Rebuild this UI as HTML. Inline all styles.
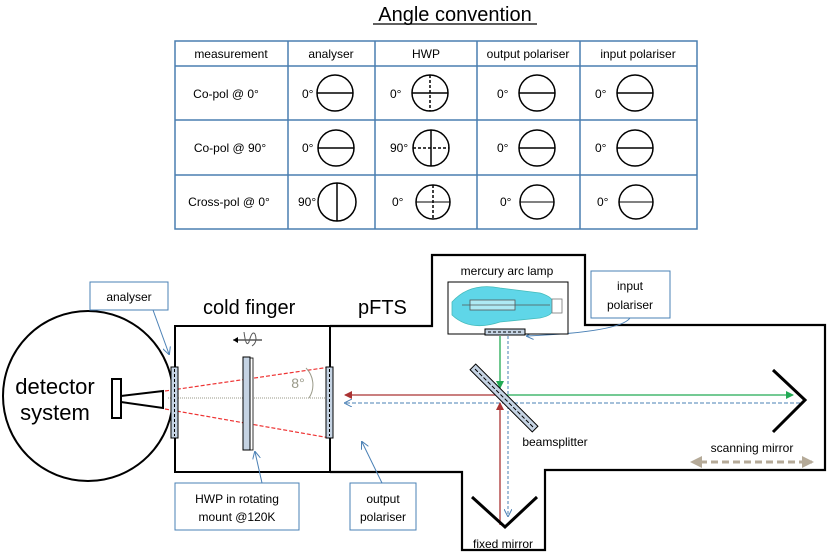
<!DOCTYPE html>
<html><head><style>html,body{margin:0;padding:0;background:#fff}svg{display:block}</style></head>
<body>
<svg width="830" height="557" viewBox="0 0 830 557" xmlns="http://www.w3.org/2000/svg" font-family="Liberation Sans, sans-serif">
<defs>
<marker id="ar" markerWidth="8" markerHeight="8" refX="7" refY="4" orient="auto" markerUnits="userSpaceOnUse"><path d="M0,0 L8,4 L0,8 z" fill="#a33"/></marker>
<marker id="ag" markerWidth="8" markerHeight="8" refX="7" refY="4" orient="auto" markerUnits="userSpaceOnUse"><path d="M0,0 L8,4 L0,8 z" fill="#2a5"/></marker>
<marker id="ab" markerWidth="8" markerHeight="8" refX="7" refY="4" orient="auto" markerUnits="userSpaceOnUse"><path d="M0,0 L8,4 L0,8" fill="none" stroke="#4a80b5"/></marker>
<marker id="at" markerWidth="12" markerHeight="12" refX="10" refY="6" orient="auto" markerUnits="userSpaceOnUse"><path d="M0,0 L12,6 L0,12 z" fill="#b5aa98"/></marker>
</defs>
<!-- title -->
<text x="455" y="21" font-size="20" text-anchor="middle">Angle convention</text>
<line x1="373" y1="24" x2="537" y2="24" stroke="#000" stroke-width="1.2"/>
<!-- table -->
<g stroke="#4a7fb0" stroke-width="1.5" fill="none">
<rect x="175" y="41" width="522" height="188"/>
<line x1="175" y1="66" x2="697" y2="66"/><line x1="175" y1="120" x2="697" y2="120"/><line x1="175" y1="175" x2="697" y2="175"/>
<line x1="288" y1="41" x2="288" y2="229"/><line x1="375" y1="41" x2="375" y2="229"/><line x1="477" y1="41" x2="477" y2="229"/><line x1="580" y1="41" x2="580" y2="229"/>
</g>
<g font-size="12" text-anchor="middle">
<text x="231" y="58">measurement</text><text x="331" y="58">analyser</text><text x="426" y="58">HWP</text><text x="528" y="58">output polariser</text><text x="638" y="58">input polariser</text>
<text x="226" y="98">Co-pol @ 0°</text><text x="230" y="152">Co-pol @ 90°</text><text x="229" y="206">Cross-pol @ 0°</text>
</g>
<g font-size="12">
<text x="302" y="98">0°</text><text x="302" y="152">0°</text><text x="298" y="206">90°</text>
<text x="390" y="98">0°</text><text x="390" y="152">90°</text><text x="392" y="206">0°</text>
<text x="497" y="98">0°</text><text x="497" y="152">0°</text><text x="500" y="206">0°</text>
<text x="595" y="98">0°</text><text x="595" y="152">0°</text><text x="597" y="206">0°</text>
</g>
<g stroke="#000" stroke-width="1.5" fill="none">
<circle cx="335" cy="93" r="18"/><line x1="317" y1="93" x2="353" y2="93"/>
<circle cx="336" cy="148" r="18"/><line x1="318" y1="148" x2="354" y2="148"/>
<circle cx="337" cy="202" r="19"/><line x1="337" y1="183" x2="337" y2="221"/>
<circle cx="430" cy="93" r="18"/><line x1="412" y1="93" x2="448" y2="93"/><line x1="430" y1="75" x2="430" y2="111" stroke-dasharray="3,2"/>
<circle cx="431" cy="148" r="18"/><line x1="431" y1="130" x2="431" y2="166"/><line x1="413" y1="148" x2="449" y2="148" stroke-dasharray="3,2"/>
<circle cx="433" cy="202" r="17"/><line x1="416" y1="202" x2="450" y2="202" stroke-width="1"/><line x1="433" y1="185" x2="433" y2="219" stroke-dasharray="3,2"/>
<circle cx="537" cy="93" r="18"/><line x1="519" y1="93" x2="555" y2="93"/>
<circle cx="537" cy="148" r="18"/><line x1="519" y1="148" x2="555" y2="148"/>
<circle cx="537" cy="202" r="17"/><line x1="520" y1="202" x2="554" y2="202" stroke-width="1"/>
<circle cx="635" cy="93" r="18"/><line x1="617" y1="93" x2="653" y2="93"/>
<circle cx="635" cy="148" r="18"/><line x1="617" y1="148" x2="653" y2="148"/>
<circle cx="636" cy="202" r="17"/><line x1="619" y1="202" x2="653" y2="202" stroke-width="1"/>
</g>
<!-- outlines -->
<circle cx="88" cy="396" r="85" fill="none" stroke="#000" stroke-width="2"/>
<rect x="175" y="326" width="155" height="146" fill="none" stroke="#000" stroke-width="2"/>
<path d="M330,326 L432,326 L432,255 L585,255 L585,325 L825,325 L825,470 L545,470 L545,550 L462,550 L462,472 L330,472" fill="none" stroke="#000" stroke-width="2.2"/>
<!-- detector -->
<rect x="112" y="379" width="9" height="39" fill="#fff" stroke="#000" stroke-width="2"/>
<path d="M121,396 L163,391 L163,408 L121,402" fill="none" stroke="#000" stroke-width="2"/>
<text x="55" y="394" font-size="22" text-anchor="middle">detector</text>
<text x="55" y="420" font-size="22" text-anchor="middle">system</text>
<!-- rays -->
<line x1="168" y1="398" x2="326" y2="398" stroke="#998" stroke-width="1" stroke-dasharray="1,1"/>
<line x1="165" y1="391" x2="330" y2="367" stroke="#e33" stroke-width="1.2" stroke-dasharray="4,2"/>
<line x1="165" y1="409" x2="330" y2="438" stroke="#e33" stroke-width="1.2" stroke-dasharray="4,2"/>
<path d="M306,368 A24,24 0 0 1 309,398" fill="none" stroke="#998" stroke-width="1"/>
<text x="298" y="388" font-size="14" fill="#998" text-anchor="middle">8°</text>
<!-- plates -->
<rect x="171" y="367" width="7" height="71" fill="#c5d3e3" stroke="#000" stroke-width="1"/>
<line x1="174.5" y1="369" x2="174.5" y2="436" stroke="#000" stroke-dasharray="3,2"/>
<rect x="250" y="358" width="3" height="92" fill="#fff" stroke="#000" stroke-width="0.8"/>
<rect x="243" y="357" width="7" height="93" fill="#c5d3e3" stroke="#000" stroke-width="1"/>
<rect x="326" y="367" width="7" height="71" fill="#c5d3e3" stroke="#000" stroke-width="1"/>
<line x1="329.5" y1="369" x2="329.5" y2="436" stroke="#000" stroke-dasharray="3,2"/>
<!-- rotation icon -->
<line x1="233" y1="340" x2="262" y2="340" stroke="#000" stroke-width="1"/>
<path d="M233,340 l5,-3 v6 z" fill="#000"/>
<path d="M244,332 q2,16 5,10 q3,-12 6,-8 q3,8 -3,12" fill="none" stroke="#555" stroke-width="1"/>
<!-- labels -->
<text x="203" y="314" font-size="20">cold finger</text>
<text x="358" y="314" font-size="20">pFTS</text>
<g fill="#fff" stroke="#4a80b5" stroke-width="1"><rect x="90" y="282" width="78" height="28"/><rect x="175" y="483" width="124" height="47"/><rect x="350" y="483" width="66" height="47"/><rect x="591" y="271" width="79" height="47"/></g>
<g font-size="12" text-anchor="middle">
<text x="129" y="301">analyser</text>
<text x="237" y="503">HWP in rotating</text><text x="237" y="521">mount @120K</text>
<text x="383" y="503">output</text><text x="383" y="521">polariser</text>
<text x="630" y="290">input</text><text x="630" y="309">polariser</text>
<text x="507" y="275">mercury arc lamp</text>
<text x="555" y="446">beamsplitter</text>
<text x="752" y="452">scanning mirror</text>
<text x="503" y="548">fixed mirror</text>
</g>
<g stroke="#4a80b5" stroke-width="1" fill="none">
<line x1="153" y1="310" x2="169" y2="354" marker-end="url(#ab)"/>
<line x1="262" y1="483" x2="255" y2="452" marker-end="url(#ab)"/>
<line x1="382" y1="483" x2="362" y2="442" marker-end="url(#ab)"/>
<path d="M630,318 Q620,332 527,336" marker-end="url(#ab)"/>
</g>
<!-- lamp -->
<rect x="448" y="282" width="120" height="52" fill="#fff" stroke="#000" stroke-width="1"/>
<path d="M452,302 Q470,282 500,288 L540,293 Q550,296 552,300 L552,312 Q550,316 540,318 L500,322 Q470,332 452,315 Z" fill="#5fd6e8" stroke="#4bb" stroke-width="0.8"/>
<rect x="552" y="299" width="10" height="14" fill="#fff" stroke="#777" stroke-width="0.8"/>
<rect x="470" y="300" width="45" height="10" fill="#aeeaf4" stroke="#555" stroke-width="0.8"/>
<line x1="462" y1="305" x2="550" y2="305" stroke="#555" stroke-width="0.8"/>
<rect x="485" y="329" width="40" height="6" fill="#c5d3e3" stroke="#000" stroke-width="1"/>
<line x1="488" y1="332" x2="523" y2="332" stroke="#000" stroke-dasharray="3,2"/>
<!-- beams -->
<line x1="500" y1="336" x2="500" y2="388" stroke="#2a5" stroke-width="1.3" marker-end="url(#ag)"/>
<line x1="508" y1="336" x2="508" y2="516" stroke="#4a80b5" stroke-width="1" stroke-dasharray="3,2" marker-end="url(#ab)"/>
<line x1="505" y1="395" x2="793" y2="395" stroke="#2a5" stroke-width="1.3" marker-end="url(#ag)"/>
<line x1="800" y1="403" x2="345" y2="403" stroke="#4a80b5" stroke-width="1" stroke-dasharray="4,2" marker-end="url(#ab)"/>
<line x1="500" y1="395" x2="345" y2="395" stroke="#a33" stroke-width="1.3" marker-end="url(#ar)"/>
<line x1="500" y1="525" x2="500" y2="403" stroke="#a33" stroke-width="1.3" marker-end="url(#ar)"/>
<!-- beamsplitter -->
<g transform="translate(504,398) rotate(45)">
<rect x="-44" y="-4" width="88" height="8" fill="#c5d3e3" stroke="#000" stroke-width="1"/>
<line x1="-41" y1="0" x2="41" y2="0" stroke="#000" stroke-dasharray="4,2"/>
</g>
<!-- mirrors -->
<path d="M773,370 L805,400 L773,432" fill="none" stroke="#000" stroke-width="3"/>
<path d="M472,497 L505,527 L537,497" fill="none" stroke="#000" stroke-width="3"/>
<line x1="700" y1="462" x2="812" y2="462" stroke="#b5aa98" stroke-width="3" stroke-dasharray="7,4" marker-end="url(#at)"/>
<path d="M690,462 l12,-6 v12 z" fill="#b5aa98"/>
</svg>
</body></html>
